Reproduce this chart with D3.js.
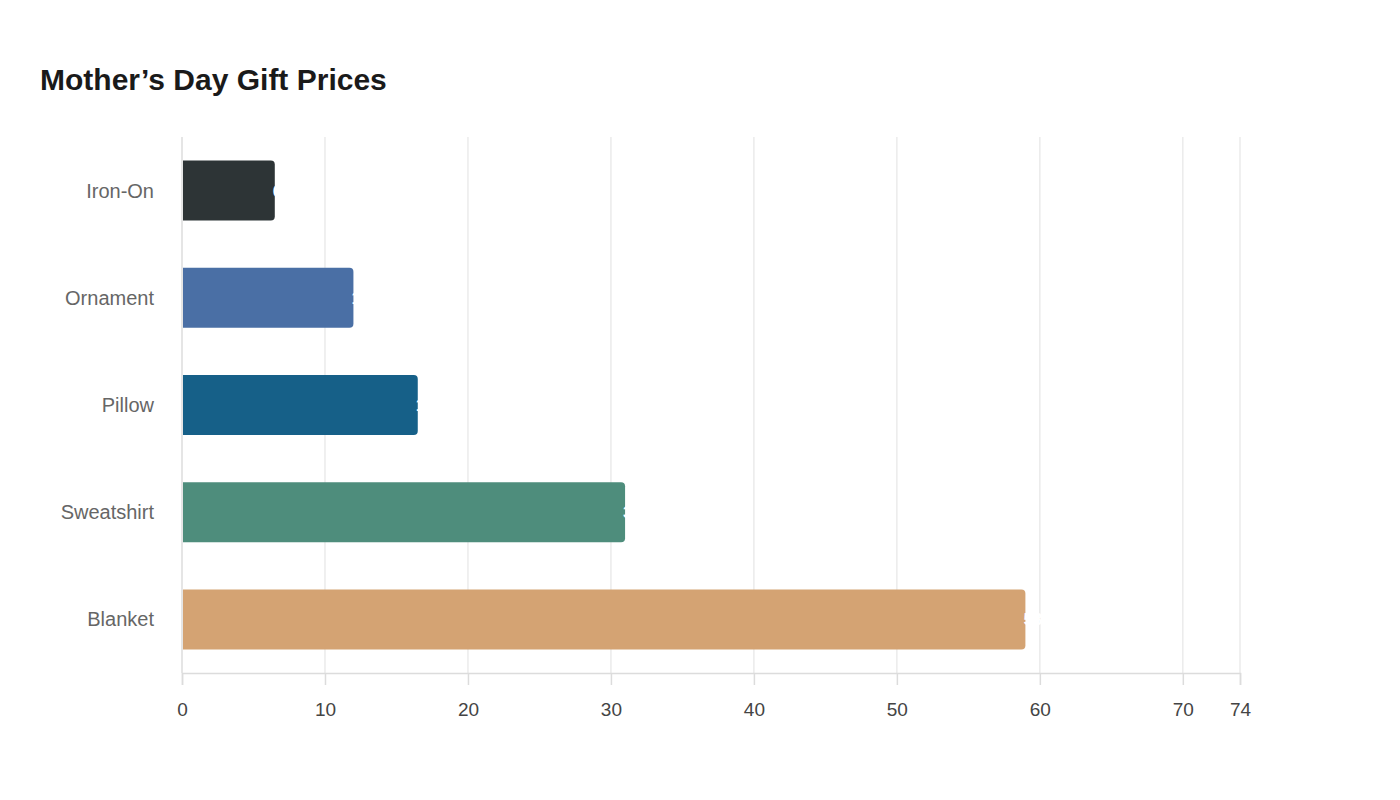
<!DOCTYPE html><html><head><meta charset="utf-8"><script src="https://cdn.jsdelivr.net/npm/d3@7"></script>
<style>body{margin:0;background:#fff;font-family:"Liberation Sans",Arial,sans-serif}</style></head><body><svg id="c" width="1400" height="800"></svg>
<script>
const categories=["Iron-On","Ornament","Pillow","Sweatshirt","Blanket"];
const values=[6.49,11.99,16.49,30.99,58.99];
const colors=["#2d3436","#4a6fa5","#166088","#4e8d7c","#d4a373"];
const tickValues=[0,10,20,30,40,50,60,70,74];
const svg=d3.select("#c");
const L=182,R=1240,T=137,B=673;
const x=d3.scaleLinear().domain([0,74]).range([L,R]);
const y=d3.scaleBand().domain(categories).range([T,B]).paddingInner(0.44).paddingOuter(0.22);
svg.append("text").attr("x",40).attr("y",90).attr("font-size",30).attr("font-weight","bold").attr("fill","#1a1a1a").text("Mother’s Day Gift Prices");
svg.append("g").selectAll("line").data(tickValues.filter(d=>d>0)).join("line").attr("x1",d=>x(d)).attr("x2",d=>x(d)).attr("y1",T).attr("y2",B).attr("stroke","#ebebeb").attr("stroke-width",1.5);
const ax=svg.append("g").attr("transform",`translate(0,${B})`).call(d3.axisBottom(x).tickValues(tickValues).tickSize(12).tickPadding(18).tickFormat(d3.format("d")));
ax.select(".domain").attr("stroke","#dcdcdc").attr("stroke-width",1.5);
ax.selectAll(".tick line").attr("stroke","#dcdcdc").attr("stroke-width",1.5);
ax.selectAll("text").attr("font-size",19).attr("fill","#444").attr("font-family","Liberation Sans, Arial, sans-serif");
svg.append("line").attr("x1",L).attr("x2",L).attr("y1",T).attr("y2",B).attr("stroke","#dcdcdc").attr("stroke-width",1.5);
const r=4;
svg.append("g").selectAll("path").data(categories).join("path")
 .attr("d",(c,i)=>{const x0=x(0)+1,x1=x(values[i]),y0=y(c),h=y.bandwidth();return `M${x0},${y0}H${x1-r}Q${x1},${y0} ${x1},${y0+r}V${y0+h-r}Q${x1},${y0+h} ${x1-r},${y0+h}H${x0}Z`;})
 .attr("fill",(c,i)=>colors[i]);
svg.append("g").selectAll("text").data(categories).join("text").attr("x",(c,i)=>x(values[i])-2).attr("y",c=>y(c)+y.bandwidth()/2).attr("dy","0.35em").attr("font-size",17).attr("font-weight","bold").attr("fill","#fff").text((c,i)=>values[i]);
svg.append("g").selectAll("text").data(categories).join("text").attr("x",154).attr("y",c=>y(c)+y.bandwidth()/2).attr("dy","0.35em").attr("text-anchor","end").attr("font-size",20).attr("fill","#666").text(c=>c);
</script></body></html>
